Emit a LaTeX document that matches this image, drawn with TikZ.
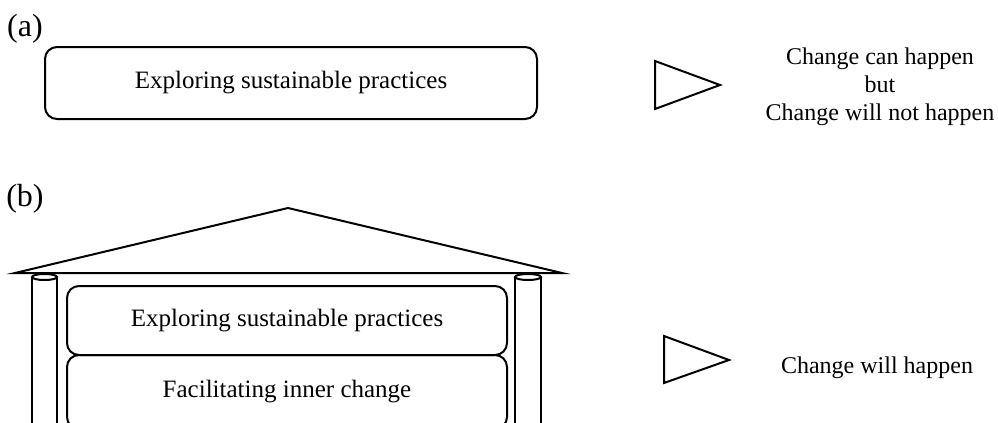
\documentclass[tikz,border=0pt]{standalone}
\usepackage{fontspec}
\setmainfont{Liberation Serif}
\usetikzlibrary{positioning}
\begin{document}
\begin{tikzpicture}[x=0.5pt,y=-0.5pt,line width=1pt,
  every node/.style={align=center,font=\fontsize{12}{14}\selectfont,inner sep=0pt},
  practice/.style={draw,rounded corners=6pt,outer sep=0pt,font=\fontsize{12.5}{15}\selectfont,minimum width=220pt,minimum height=34.5pt},
  tag/.style={font=\fontsize{16}{19}\selectfont},
  pointer/.style={line join=miter}]
\clip (0,0) rectangle (998,423);
% (a) exploring alone
\node[tag] (labela) at (25,29) {(a)};
\node[practice,minimum width=246pt,minimum height=36pt] (explorea) at (291,83) {Exploring sustainable practices};
\draw[pointer] (655,61) -- (720,85) coordinate (tipa) -- (655,109) -- cycle;
\node (outcomea) at (880,87) {Change can happen\\but\\Change will not happen};
% (b) the house
\node[tag] (labelb) at (25,199) {(b)};
\draw (15,273) -- (288,208) coordinate (ridge) -- (562,273) -- cycle;
\draw (32,277) -- (32,430) (57,277) -- (57,430);
\draw (44.5,277) ellipse (12.5 and 3);
\draw (515,277) -- (515,430) (541,277) -- (541,430);
\draw (528,277) ellipse (13 and 3);
\node[practice] (exploreb) at (287,320.5) {Exploring sustainable practices};
\node[practice,minimum height=37pt,below=0pt of exploreb] (inner) {Facilitating inner change};
\draw[pointer] (664,336) -- (729,360) coordinate (tipb) -- (664,383) -- cycle;
\node (outcomeb) at (877,368) {Change will happen};
\end{tikzpicture}
\end{document}
